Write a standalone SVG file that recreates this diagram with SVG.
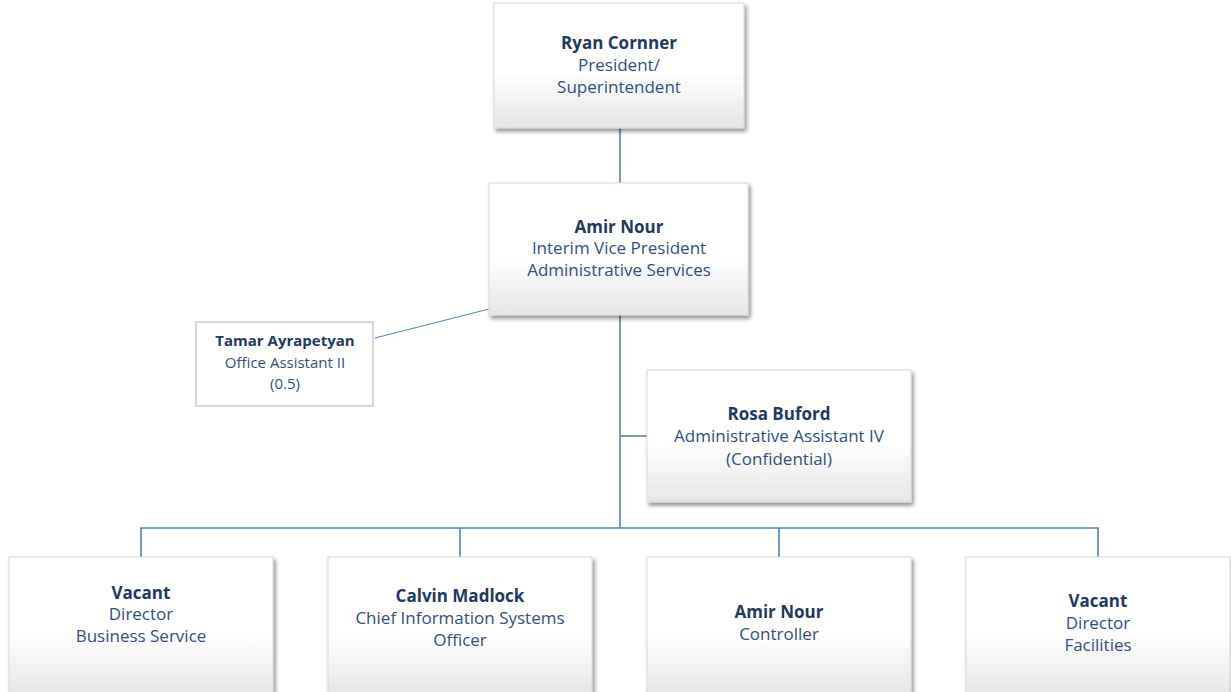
<svg xmlns="http://www.w3.org/2000/svg" width="1231" height="692" viewBox="0 0 1231 692">
<style>
.box{fill:url(#g);stroke:#d9d9d9;stroke-width:1;filter:url(#sh)}
.plain{fill:#fff;stroke:#bfbfbf;stroke-width:1.2}
.c{fill:none;stroke:#4f81bd;stroke-width:1.6}
text{font-family:"Open Sans","Liberation Sans",sans-serif;font-size:17px;text-anchor:middle}
.n{font-weight:bold;fill:#1f3864}
.t{fill:#2f4f86}
.s{font-size:15px}
</style>
<defs>
<linearGradient id="g" x1="0" y1="0" x2="0" y2="1">
<stop offset="0" stop-color="#ffffff"/>
<stop offset="0.55" stop-color="#ffffff"/>
<stop offset="1" stop-color="#e6e6e6"/>
</linearGradient>
<filter id="sh" x="-10%" y="-10%" width="125%" height="130%">
<feGaussianBlur in="SourceAlpha" stdDeviation="2"/>
<feOffset dx="1.5" dy="2.5" result="b"/>
<feComponentTransfer><feFuncA type="linear" slope="0.45"/></feComponentTransfer>
<feMerge><feMergeNode/><feMergeNode in="SourceGraphic"/></feMerge>
</filter>
</defs>
<rect width="1231" height="692" fill="#fff"/>
<g id="connectors">
<line class="c" x1="620" y1="128" x2="620" y2="183"/>
<line class="c" x1="620" y1="315" x2="620" y2="528"/>
<line class="c" x1="620" y1="436" x2="647" y2="436"/>
<line x1="375" y1="338" x2="489" y2="309" stroke="#4f81bd" stroke-width="1"/>
<polyline class="c" points="141,557 141,528 1098,528 1098,557"/>
<line class="c" x1="460" y1="528" x2="460" y2="557"/>
<line class="c" x1="779" y1="528" x2="779" y2="557"/>
</g>
<g id="president">
<rect class="box" x="494" y="3" width="250" height="125"/>
<text class="n" x="619" y="49">Ryan Cornner</text>
<text class="t" x="619" y="71">President/</text>
<text class="t" x="619" y="93">Superintendent</text>
</g>
<g id="vp">
<rect class="box" x="489" y="183" width="259" height="132"/>
<text class="n" x="619" y="233">Amir Nour</text>
<text class="t" x="619" y="254">Interim Vice President</text>
<text class="t" x="619" y="276">Administrative Services</text>
</g>
<g id="tamar">
<rect class="plain" x="196" y="322" width="177" height="84"/>
<text class="n s" x="285" y="346">Tamar Ayrapetyan</text>
<text class="t s" x="285" y="368">Office Assistant II</text>
<text class="t s" x="285" y="389">(0.5)</text>
</g>
<g id="rosa">
<rect class="box" x="647" y="370" width="264" height="132"/>
<text class="n" x="779" y="420">Rosa Buford</text>
<text class="t" x="779" y="442">Administrative Assistant IV</text>
<text class="t" x="779" y="465">(Confidential)</text>
</g>
<g id="business">
<rect class="box" x="9" y="557" width="264" height="140"/>
<text class="n" x="141" y="599">Vacant</text>
<text class="t" x="141" y="620">Director</text>
<text class="t" x="141" y="642">Business Service</text>
</g>
<g id="cio">
<rect class="box" x="328" y="557" width="264" height="140"/>
<text class="n" x="460" y="602">Calvin Madlock</text>
<text class="t" x="460" y="624">Chief Information Systems</text>
<text class="t" x="460" y="646">Officer</text>
</g>
<g id="controller">
<rect class="box" x="647" y="557" width="264" height="140"/>
<text class="n" x="779" y="618">Amir Nour</text>
<text class="t" x="779" y="640">Controller</text>
</g>
<g id="facilities">
<rect class="box" x="966" y="557" width="264" height="140"/>
<text class="n" x="1098" y="607">Vacant</text>
<text class="t" x="1098" y="629">Director</text>
<text class="t" x="1098" y="651">Facilities</text>
</g>
</svg>
